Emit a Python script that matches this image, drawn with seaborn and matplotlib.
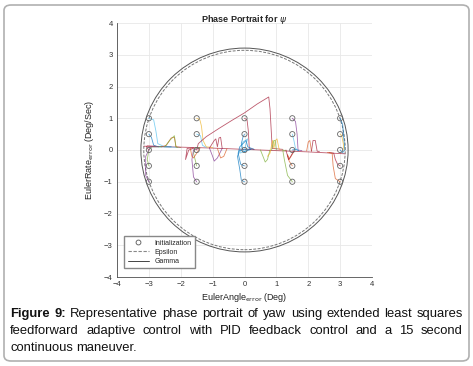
import matplotlib
matplotlib.use("Agg")
import matplotlib.pyplot as plt
from matplotlib.patches import Ellipse, FancyBboxPatch
from matplotlib.lines import Line2D
import seaborn as sns
import pandas as pd
import itertools

# MATLAB default line colours
BLUE, ORANGE, YELLOW, PURPLE = "#0072BD", "#D95319", "#EDB120", "#7E2F8E"
GREEN, CYAN, RED = "#77AC30", "#4DBEEE", "#A2142F"

# initial conditions (angle error, rate error)
init_angles = [-3, -1.5, 0, 1.5, 3]
init_rates = [-1, -0.5, 0, 0.5, 1]

# boundary ellipses (width, height in data units)
gamma_size = (6.5, 6.42)
epsilon_size = (6.32, 6.28)

# trajectories: (x points, y points, colour)
trajectories = [
    ([-3.15, -2.0, -1.0, 0.0, 1.0, 2.0, 3.15], [0.12, 0.09, 0.06, 0.02, -0.02, -0.06, -0.12], RED),
    ([-3, -2.85, -2.78, -2.72, -2.5, -2.0], [1, 0.95, 0.6, 0.2, 0.1, 0.08], CYAN),
    ([-3, -2.92, -2.85, -2.7, -2.3], [0.5, 0.4, 0.15, 0.1, 0.1], BLUE),
    ([-3, -3.08, -3.05, -2.8], [0, 0.1, 0.13, 0.12], RED),
    ([-3, -3.05, -3.0, -2.9, -2.6], [-0.5, -0.3, 0.0, 0.1, 0.1], GREEN),
    ([-3, -3.1, -3.1, -2.95, -2.7], [-1, -0.8, -0.2, 0.1, 0.1], PURPLE),
    ([-2.6, -2.45, -2.3, -2.2, -2.15, -2.0], [0.1, 0.15, 0.38, 0.4, 0.1, 0.08], ORANGE),
    ([-2.5, -2.35, -2.2, -2.15, -2.1], [0.1, 0.3, 0.45, 0.1, 0.08], GREEN),
    ([-1.5, -1.4, -1.35, -1.3, -1.2, -1.0], [1, 0.95, 0.75, 0.3, 0.1, 0.08], YELLOW),
    ([-1.5, -1.38, -1.32, -1.2], [0.5, 0.45, 0.15, 0.08], CYAN),
    ([-1.6, -1.75, -1.85, -1.8, -1.6], [0.05, 0.0, -0.3, 0.05, 0.07], RED),
    ([-1.5, -1.55, -1.6, -1.55, -1.4], [-0.5, -0.3, -0.1, 0.05, 0.08], GREEN),
    ([-1.5, -1.6, -1.65, -1.6, -1.4], [-1, -0.85, -0.3, 0.0, 0.06], PURPLE),
    ([-1.7, -1.65, -1.6, -1.5, -1.4], [0.05, -0.2, -0.25, -0.1, 0.06], ORANGE),
    ([-1.1, -0.95, -0.9, -0.85, -0.8, -0.75, -0.7], [0.06, 0.3, 0.35, 0.1, 0.38, 0.4, 0.05], RED),
    ([-1.1, -1.0, -0.95, -0.85, -0.7], [0.06, -0.2, -0.35, -0.25, 0.05], PURPLE),
    ([-0.85, -0.75, -0.65, -0.55], [0.05, -0.25, -0.2, 0.04], ORANGE),
    ([-1.5, -1.45, -1.2, -0.8, -0.4, 0.0, 0.4, 0.76, 0.8, 0.87, 1.2],
     [0, 0.2, 0.42, 0.68, 0.93, 1.17, 1.45, 1.67, 1.3, 0.05, 0.02], RED),
    ([0, 0.08, 0.12, 0.15, 0.3], [1, 0.95, 0.6, 0.05, 0.02], RED),
    ([0, -0.05, -0.1, -0.05, 0.05, 0.2], [0.5, 0.4, 0.2, 0.0, 0.03, 0.02], BLUE),
    ([0, 0.05, 0.1, -0.05, -0.15, 0.0, 0.1], [0, 0.2, 0.35, 0.25, -0.1, -0.05, 0.02], CYAN),
    ([0, -0.12, -0.2, -0.15, 0.05, 0.1, 0.3], [-0.5, -0.45, -0.1, 0.1, 0.3, 0.1, 0.02], BLUE),
    ([0, -0.1, -0.15, -0.22, -0.15, 0.0, 0.2], [-1, -0.95, -0.6, -0.2, 0.0, -0.05, 0.02], BLUE),
    ([0.5, 0.58, 0.65, 0.72, 0.8], [0.0, -0.2, -0.38, -0.3, 0.0], GREEN),
    ([0.72, 0.8, 0.88, 0.92, 0.97, 1.02, 1.08, 1.12], [-0.2, -0.1, 0.3, 0.05, 0.3, 0.35, 0.05, 0.0], YELLOW),
    ([0.85, 0.92, 0.96, 1.0], [0.0, 0.3, 0.3, 0.0], GREEN),
    ([1.5, 1.6, 1.65, 1.68, 1.8], [1, 0.9, 0.5, 0.0, -0.02], PURPLE),
    ([1.5, 1.55, 1.6, 1.7], [0.5, 0.3, 0.05, -0.02], CYAN),
    ([1.5, 1.6, 1.7], [0, 0.02, -0.02], BLUE),
    ([1.5, 1.4, 1.35, 1.4, 1.55], [-0.5, -0.35, -0.15, -0.3, -0.05], ORANGE),
    ([1.5, 1.35, 1.25, 1.2, 1.3], [-1, -0.8, -0.3, 0.0, -0.02], GREEN),
    ([1.3, 1.38, 1.45, 1.55], [0.0, -0.3, -0.2, -0.02], RED),
    ([1.95, 2.0, 2.05, 2.1], [-0.03, 0.25, 0.3, -0.03], ORANGE),
    ([2.1, 2.15, 2.22, 2.28, 2.35], [-0.04, 0.3, 0.3, -0.04, -0.05], RED),
    ([3, 3.08, 3.12, 3.15, 3.1], [1, 0.8, 0.3, 0.0, -0.05], BLUE),
    ([3, 3.05, 3.1, 3.12], [0.5, 0.45, 0.2, 0.0], YELLOW),
    ([3, 3.05, 3.1], [0, -0.05, -0.1], BLUE),
    ([3, 2.92, 2.85, 2.8, 2.65], [-0.5, -0.45, -0.3, -0.1, -0.08], RED),
    ([3, 2.85, 2.78, 2.75, 2.6], [-1, -0.9, -0.5, -0.1, -0.08], ORANGE),
]

caption_lines = [
    "Figure 9: Representative phase portrait of yaw using extended least squares",
    "feedforward adaptive control with PID feedback control and a 15 second",
    "continuous maneuver.",
]

sns.set_theme(style="whitegrid")
plt.rcParams["font.family"] = ["Liberation Sans", "DejaVu Sans"]
plt.rcParams["mathtext.fontset"] = "dejavusans"

rows = []
palette = {}
for i, (xs, ys, c) in enumerate(trajectories):
    palette[i] = c
    for k, (a, b) in enumerate(zip(xs, ys)):
        rows.append({"id": i, "order": k, "x": a, "y": b})
df = pd.DataFrame(rows)
init_df = pd.DataFrame(list(itertools.product(init_angles, init_rates)), columns=["x", "y"])

fig = plt.figure(figsize=(4.73, 3.66), dpi=100)
ax = fig.add_axes([117 / 473, 89 / 366, 255 / 473, 254 / 366])

sns.lineplot(data=df, x="x", y="y", hue="id", units="id", estimator=None, sort=False,
             palette=palette, legend=False, lw=0.6, alpha=0.7, ax=ax)
sns.scatterplot(data=init_df, x="x", y="y", marker="o", s=14, facecolor="none",
                edgecolor="#666666", linewidth=0.6, ax=ax, zorder=5)

ax.add_patch(Ellipse((0, 0), *gamma_size, fill=False, ec="#555555", lw=0.7))
ax.add_patch(Ellipse((0, 0), *epsilon_size, fill=False, ec="#777777", lw=0.7, ls=(0, (3, 1.5))))

ax.set_xlim(-4, 4)
ax.set_ylim(-4, 4)
ax.set_xticks(range(-4, 5))
ax.set_yticks(range(-4, 5))
ax.grid(True, color="#e8e8e8", lw=0.6)
for s in ["top", "right"]:
    ax.spines[s].set_visible(False)
for s in ["left", "bottom"]:
    ax.spines[s].set_color("#4d4d4d")
    ax.spines[s].set_linewidth(0.6)
ax.tick_params(labelsize=5.5, colors="#333333", length=2, direction="in", width=0.5, pad=3)
ax.set_xlabel(r"EulerAngle$_{\mathrm{error}}$ (Deg)", fontsize=6.5, color="#222222", labelpad=2)
ax.set_ylabel(r"EulerRate$_{\mathrm{error}}$ (Deg/Sec)", fontsize=6.5, color="#222222", labelpad=6)
ax.set_title(r"Phase Portrait for $\psi$", fontsize=6.5, fontweight="bold", pad=1)

handles = [
    Line2D([], [], ls="none", marker="o", mfc="none", mec="#555555", ms=3.5, mew=0.6),
    Line2D([], [], ls=(0, (3, 1.5)), color="#888888", lw=0.8),
    Line2D([], [], ls="-", color="#444444", lw=0.7),
]
ax.legend(handles, ["Initialization", "Epsilon", "Gamma"], loc="lower left",
          bbox_to_anchor=(0.015, 0.02), fontsize=5, frameon=True, fancybox=False,
          edgecolor="#888888", framealpha=1, handlelength=3, borderpad=0.5,
          labelspacing=0.3)

# rounded frame around the whole figure
fig.patches.append(FancyBboxPatch((4 / 473, 5 / 366), 465 / 473, 356 / 366,
                                  boxstyle="round,pad=0,rounding_size=0.015",
                                  transform=fig.transFigure, fill=False,
                                  ec="#b0b0b0", lw=1.2))

# justified caption
renderer = fig.canvas.get_renderer()
left, right = 10, 463
fs = 9.4
ys_px = [314, 331, 348]
for li, (line, ypx) in enumerate(zip(caption_lines, ys_px)):
    words = line.split(" ")
    arts = []
    for wi, w in enumerate(words):
        bold = li == 0 and wi < 2
        t = fig.text(0, 1 - ypx / 366, w, fontsize=fs, va="center", ha="left",
                     fontweight="bold" if bold else "normal", color="#111111")
        arts.append(t)
    widths = [a.get_window_extent(renderer).width for a in arts]
    if li < len(caption_lines) - 1:
        gap = (right - left - sum(widths)) / (len(words) - 1)
    else:
        gap = fs * 100 / 72 * 0.28
    x = left
    for a, w in zip(arts, widths):
        a.set_x(x / 473)
        x += w + gap

fig.savefig("out.png", dpi=100)
